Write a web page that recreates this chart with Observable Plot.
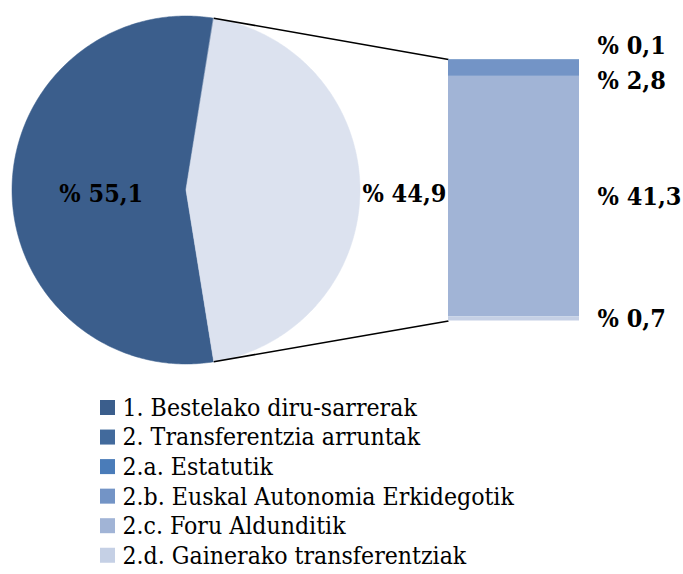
<!DOCTYPE html>
<html><head><meta charset="utf-8">
<script src="https://cdn.jsdelivr.net/npm/d3@7"></script>
<script src="https://cdn.jsdelivr.net/npm/@observablehq/plot@0.6"></script>
<style>body{margin:0;background:#fff;}</style>
</head><body><div id="chart"></div>
<script>
// ---- data ----
const pieLabels = ["1. Bestelako diru-sarrerak", "2. Transferentzia arruntak"];
const pieValues = [55.1, 44.9];
const pieColors = ["#3b5e8c", "#dce2ef"];

const barLabels = ["2.a. Estatutik", "2.b. Euskal Autonomia Erkidegotik", "2.c. Foru Aldunditik", "2.d. Gainerako transferentziak"];
const barValues = [0.1, 2.8, 41.3, 0.7];
const barColors = ["#4a7cb9", "#7394c6", "#a1b4d6", "#c5d0e5"];

const legendLabels = ["1. Bestelako diru-sarrerak", "2. Transferentzia arruntak", "2.a. Estatutik", "2.b. Euskal Autonomia Erkidegotik", "2.c. Foru Aldunditik", "2.d. Gainerako transferentziak"];
const legendColors = ["#3b5e8c", "#426a9c", "#4a7cb9", "#7394c6", "#a1b4d6", "#c5d0e5"];

const fmt = v => "% " + v.toFixed(1).replace(".", ",");

// ---- layout ----
const W = 683, H = 574;
const cx = 185.5, cy = 189.5, r = 174;
const barX0 = 448, barX1 = 579, barTop = 59, barBottom = 320.5;
const labelX = 597;
const serif = "'DejaVu Serif Condensed', 'DejaVu Serif', serif";

// pie geometry (second slice centred on the right)
const total = d3.sum(pieValues);
const span2 = 2 * Math.PI * pieValues[1] / total;
const slices = [
  {i: 0, a0: span2 / 2, a1: 2 * Math.PI - span2 / 2},
  {i: 1, a0: -span2 / 2, a1: span2 / 2}
];
const px = a => cx + r * Math.cos(a), py = a => cy - r * Math.sin(a);
const piePts = [];
for (const s of slices) {
  const n = 240;
  piePts.push({slice: s.i, x: cx, y: cy, fill: pieColors[s.i]});
  for (let k = 0; k <= n; k++) {
    const a = s.a0 + (s.a1 - s.a0) * k / n;
    piePts.push({slice: s.i, x: px(a), y: py(a), fill: pieColors[s.i]});
  }
}
const pieText = slices.map(s => {
  const mid = (s.a0 + s.a1) / 2;
  const f = s.i === 0 ? 0.487 : 1.255;
  return {x: cx + f * r * Math.cos(mid), y: cy - f * r * Math.sin(mid) + 4, text: fmt(pieValues[s.i])};
});

// bar (stacked from the bottom, last value at the bottom)
const by = d3.scaleLinear([0, d3.sum(barValues)], [barBottom, barTop]);
const barRects = [];
let acc = 0;
for (let i = barValues.length - 1; i >= 0; i--) {
  barRects.push({i, y1: by(acc), y2: by(acc + barValues[i]), fill: barColors[i]});
  acc += barValues[i];
}
barRects.sort((a, b) => a.i - b.i);
const labelShift = [-14, 13, 0, 0];
const barText = barRects.map(d => ({x: labelX, y: (d.y1 + d.y2) / 2 + labelShift[d.i], text: fmt(barValues[d.i])}));

// connectors
const links = [
  {x1: px(span2 / 2), y1: py(span2 / 2), x2: barX0, y2: barTop},
  {x1: px(-span2 / 2), y1: py(-span2 / 2), x2: barX0, y2: barBottom}
];

// legend
const legY0 = 407.5, legDy = 29.55;
const legend = legendLabels.map((t, i) => ({t, c: legendColors[i], y: legY0 + i * legDy}));

const chart = Plot.plot({
  width: W, height: H,
  margin: 0,
  x: {domain: [0, W], range: [0, W], axis: null},
  y: {domain: [0, H], range: [0, H], axis: null},
  color: {type: "identity"},
  marks: [
    Plot.line(piePts, {x: "x", y: "y", z: "slice", fill: "fill", stroke: "fill", strokeWidth: 0.5, curve: "linear-closed"}),
    Plot.link(links, {x1: "x1", y1: "y1", x2: "x2", y2: "y2", stroke: "#000", strokeWidth: 1.6}),
    Plot.rect(barRects, {x1: barX0, x2: barX1, y1: "y1", y2: "y2", fill: "fill"}),
    Plot.text(pieText, {x: "x", y: "y", text: "text", fontSize: 25, fontWeight: "bold", fill: "#000", fontFamily: serif}),
    Plot.text(barText, {x: "x", y: "y", text: "text", textAnchor: "start", fontSize: 25, fontWeight: "bold", fill: "#000", fontFamily: serif}),
    Plot.rect(legend, {x1: 100, x2: 115, y1: d => d.y - 7.5, y2: d => d.y + 7.5, fill: "c"}),
    Plot.text(legend, {x: 122, y: "y", text: "t", textAnchor: "start", fontSize: 24.6, fill: "#000", fontFamily: serif})
  ]
});
document.getElementById("chart").appendChild(chart);
</script>
</body></html>
